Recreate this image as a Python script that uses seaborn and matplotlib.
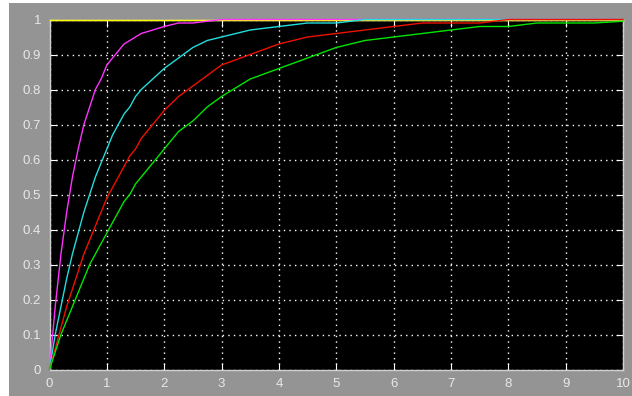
import matplotlib
matplotlib.use("Agg")
import matplotlib.pyplot as plt
import seaborn as sns
import pandas as pd
from matplotlib.patches import Rectangle

# values
t = [0, 0.1, 0.2, 0.3, 0.4, 0.5, 0.6, 0.7, 0.8, 0.9, 1.0, 1.1, 1.2, 1.3, 1.4, 1.5, 1.6, 1.8, 2.0,
     2.25, 2.5, 2.75, 3.0, 3.5, 4.0, 4.5, 5.0, 5.5, 6.0, 6.5, 7.0, 7.5, 8.0, 8.5, 9.0, 9.5, 10.0]
yellow = [1.0] * len(t)
magenta = [0, 0.18, 0.33, 0.45, 0.55, 0.63, 0.70, 0.75, 0.80, 0.83, 0.87, 0.89, 0.91, 0.93, 0.94,
           0.95, 0.96, 0.97, 0.98, 0.99, 0.99, 0.995, 1.0, 1.0, 1.0, 1.0, 1.0, 1.0, 1.0, 1.0,
           1.0, 1.0, 1.0, 1.0, 1.0, 1.0, 1.0]
cyan = [0, 0.10, 0.18, 0.26, 0.33, 0.39, 0.45, 0.50, 0.55, 0.59, 0.63, 0.67, 0.70, 0.73, 0.75,
        0.78, 0.80, 0.83, 0.86, 0.89, 0.92, 0.94, 0.95, 0.97, 0.98, 0.99, 0.99, 1.0, 1.0, 1.0,
        1.0, 1.0, 1.0, 1.0, 1.0, 1.0, 1.0]
red = [0, 0.06, 0.12, 0.18, 0.23, 0.28, 0.33, 0.37, 0.41, 0.45, 0.49, 0.52, 0.55, 0.58, 0.61,
       0.63, 0.66, 0.70, 0.74, 0.78, 0.81, 0.84, 0.87, 0.90, 0.93, 0.95, 0.96, 0.97, 0.98, 0.99,
       0.99, 0.99, 1.0, 1.0, 1.0, 1.0, 1.0]
green = [0, 0.05, 0.10, 0.14, 0.18, 0.22, 0.26, 0.30, 0.33, 0.36, 0.39, 0.42, 0.45, 0.48, 0.50,
         0.53, 0.55, 0.59, 0.63, 0.68, 0.71, 0.75, 0.78, 0.83, 0.86, 0.89, 0.92, 0.94, 0.95, 0.96,
         0.97, 0.98, 0.98, 0.99, 0.99, 0.99, 0.995]

series = [("yellow", yellow, "#ffff00"),
          ("magenta", magenta, "#ff33ff"),
          ("cyan", cyan, "#22dddd"),
          ("red", red, "#ee1100"),
          ("green", green, "#00e600")]

fig = plt.figure(figsize=(6.32, 3.96), dpi=100, facecolor="#949494")
# thin white margin on the left and top of the screenshot
fig.patches.append(Rectangle((0, 0), 9 / 632, 1, transform=fig.transFigure,
                             facecolor="white", edgecolor="none"))
fig.patches.append(Rectangle((0, 1 - 3 / 396), 1, 3 / 396, transform=fig.transFigure,
                             facecolor="white", edgecolor="none"))
ax = fig.add_axes([49.5 / 632, 26.5 / 396, 573.5 / 632, 350 / 396])
ax.set_facecolor("black")

for name, vals, col in series:
    df = pd.DataFrame({"t": t, "v": vals})
    sns.lineplot(data=df, x="t", y="v", color=col, linewidth=1, ax=ax, clip_on=False, zorder=3)

ax.set_xlim(0, 10)
ax.set_ylim(0, 1)
ax.set_xticks(range(0, 11))
ax.set_yticks([i / 10 for i in range(11)])
ax.set_yticklabels(["0", "0.1", "0.2", "0.3", "0.4", "0.5", "0.6", "0.7", "0.8", "0.9", "1"])
ax.set_xlabel("")
ax.set_ylabel("")
ax.grid(True, color="white", linestyle=(0, (1, 3)), linewidth=1)
ax.tick_params(direction="in", colors="white", length=5, top=True, right=True,
               labelcolor="#e8e8e8", labelsize=9.5, pad=6)
for lab in ax.get_xticklabels() + ax.get_yticklabels():
    lab.set_family("Liberation Sans")
for sp in ax.spines.values():
    sp.set_color("#d0d0d0")
    sp.set_linewidth(1)

fig.savefig("out.png", dpi=100, facecolor=fig.get_facecolor())
